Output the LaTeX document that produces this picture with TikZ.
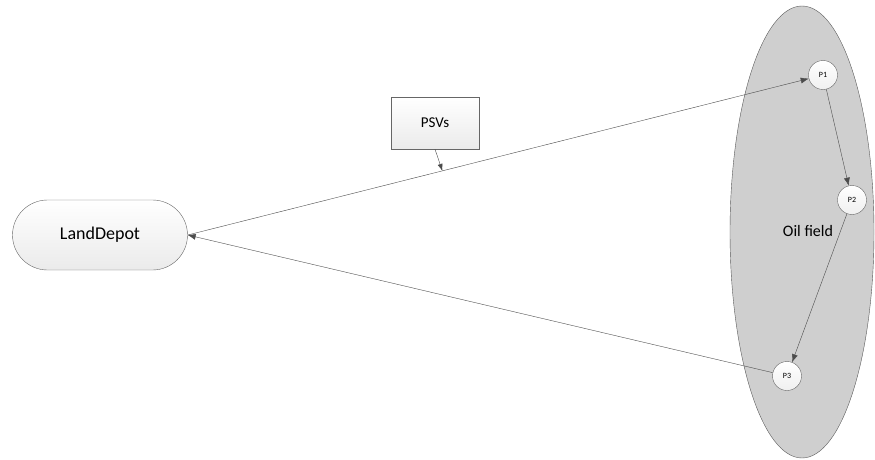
\documentclass[tikz,border=0pt]{standalone}
\usepackage{fontspec}
\setmainfont{Carlito}
\usetikzlibrary{arrows.meta,shapes.geometric}
\begin{document}
\begin{tikzpicture}[x=1pt,y=1pt]
			\tikzstyle{every node}+=[inner sep=0pt]
			\tikzset{
				box/.style={draw=black!60, top color=white, bottom color=black!8},
				port/.style={circle, draw=black!60, top color=white, bottom color=black!6, minimum size=29pt, font=\fontsize{8}{9}\selectfont},
				link/.style={draw=black!70, -{Latex[length=8pt,width=6pt]}}
			}
			\useasboundingbox (0,0) rectangle (875,-460);
			\node [ellipse, draw=black!65, fill=black!19, minimum width=144pt, minimum height=452pt] (field) at (802,-232) {};
			\node [font=\fontsize{16}{18}\selectfont] (fieldlabel) at (808,-231) {Oil field};
			\node [box, rounded corners=35pt, minimum width=175pt, minimum height=70pt, font=\fontsize{18}{20}\selectfont] (depot) at (100,-235) {LandDepot};
			\node [box, minimum width=88pt, minimum height=52pt, font=\fontsize{15}{17}\selectfont] (psv) at (435,-123) {PSVs};
			\node [port] (p1) at (823,-75) {P1};
			\node [port] (p2) at (852,-200) {P2};
			\node [port] (p3) at (787,-376) {P3};
			% routes
			\draw [link] (depot.east) -- (p1) coordinate [pos=0.41] (hit);
			\draw [link] (p1) -- (p2);
			\draw [link] (p2) -- (p3);
			\draw [link] (p3) -- (depot.east);
			\draw [link, -{Latex[length=7pt,width=5pt]}] (psv.south) -- (hit);
		\end{tikzpicture}
\end{document}
